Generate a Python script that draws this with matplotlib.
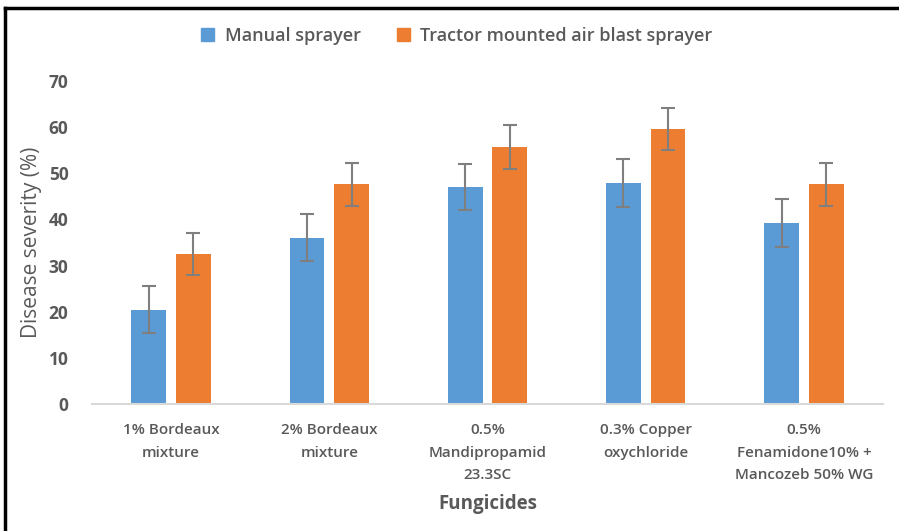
import numpy as np
import matplotlib
matplotlib.use("Agg")
import matplotlib.pyplot as plt
from matplotlib.lines import Line2D
import matplotlib.patches as ptc

categories = ["1% Bordeaux\nmixture", "2% Bordeaux\nmixture", "0.5%\nMandipropamid\n23.3SC",
              "0.3% Copper\noxychloride", "0.5%\nFenamidone10% +\nMancozeb 50% WG"]
manual = [20.4, 36.0, 47.1, 47.9, 39.3]
manual_err = [5.1, 5.1, 5.0, 5.2, 5.2]
tractor = [32.5, 47.6, 55.7, 59.6, 47.6]
tractor_err = [4.6, 4.7, 4.7, 4.6, 4.7]
series_names = ["Manual sprayer", "Tractor mounted air blast sprayer"]

blue = "#5B9BD5"
orange = "#ED7D31"
txt = "#595959"

plt.rcParams['font.family'] = ['Open Sans', 'DejaVu Sans']

fig = plt.figure(figsize=(8.99, 5.31), dpi=100)
ax = fig.add_axes([92/899, 127/531, (883-92)/899, (404-81)/531])

x = np.arange(len(categories))
w = 0.22
off = 0.141
ekw = dict(ecolor="#7F7F7F", elinewidth=1.5, capsize=5, capthick=1.5)
ax.bar(x - off, manual, w, color=blue, yerr=manual_err, error_kw=ekw, zorder=2)
ax.bar(x + off, tractor, w, color=orange, yerr=tractor_err, error_kw=ekw, zorder=2)

ax.set_xlim(-0.5, len(categories) - 0.5)
ax.set_ylim(0, 70)
ax.set_yticks(range(0, 71, 10))
ax.set_xticks(x)
ax.set_xticklabels(categories, fontsize=11, color=txt, fontweight='semibold', linespacing=1.75)
for lab in ax.get_yticklabels():
    lab.set_fontsize(12.5)
    lab.set_color(txt)
    lab.set_fontweight('bold')
ax.tick_params(axis='both', length=0)
ax.tick_params(axis='y', pad=17)
ax.tick_params(axis='x', pad=14)
for s in ["top", "right", "left"]:
    ax.spines[s].set_visible(False)
ax.spines["bottom"].set_color("#D9D9D9")
ax.spines["bottom"].set_linewidth(1.5)

ax.set_xlabel("Fungicides", fontsize=13.5, fontweight='bold', color=txt, labelpad=9)
ax.set_ylabel("Disease severity (%)", fontsize=15, color=txt, labelpad=5)

handles = [ptc.Patch(color=blue, label=series_names[0]),
           ptc.Patch(color=orange, label=series_names[1])]
fig.legend(handles=handles, loc="center", bbox_to_anchor=(457/899, 1 - 36/531), ncol=2,
           frameon=False, handlelength=0.7, handleheight=0.7,
           handletextpad=0.6, columnspacing=2.0, labelcolor=txt,
           prop={'weight': 'semibold', 'size': 13})

# frame lines at top and left
fig.add_artist(Line2D([5/899, 1], [1 - 8/531, 1 - 8/531], color="black", lw=2.5, transform=fig.transFigure))
fig.add_artist(Line2D([5/899, 5/899], [0, 1 - 8/531], color="black", lw=2.5, transform=fig.transFigure))

fig.savefig("out.png", dpi=100)
